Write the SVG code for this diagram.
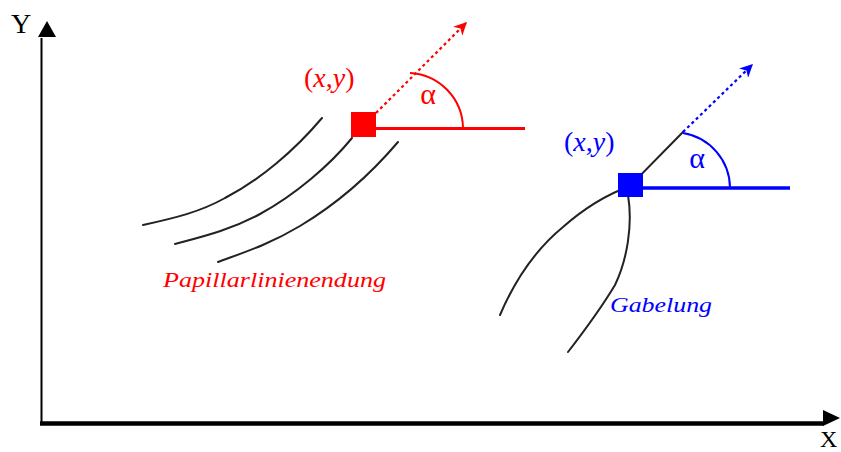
<svg xmlns="http://www.w3.org/2000/svg" width="841" height="452" viewBox="0 0 841 452">
<style>
.ax{stroke:#000;fill:none}
.ridge{stroke:#222;stroke-width:2;fill:none;stroke-linecap:round}
.lbl{font-family:"Liberation Serif","Times New Roman",serif}
.red{fill:#ff0000}
.blue{fill:#0000ff}
</style>
<defs>
<marker id="ar" viewBox="0 0 10 10" refX="9" refY="5" markerWidth="13" markerHeight="13" markerUnits="userSpaceOnUse" orient="auto">
<path d="M0,0 L10,5 L0,10 L3,5 Z" fill="#ff0000"/>
</marker>
<marker id="ab" viewBox="0 0 10 10" refX="9" refY="5" markerWidth="13" markerHeight="13" markerUnits="userSpaceOnUse" orient="auto">
<path d="M0,0 L10,5 L0,10 L3,5 Z" fill="#0000ff"/>
</marker>
</defs>
<rect width="841" height="452" fill="#fff"/>
<g id="axes">
<line class="ax" x1="41.5" y1="424" x2="41.5" y2="38" stroke-width="2"/>
<path d="M47,21 L56,37 L38,37 Z" fill="#000"/>
<line class="ax" x1="40" y1="423.5" x2="824" y2="423.5" stroke-width="4.5"/>
<path d="M823,410 L840,418 L823,426 Z" fill="#000"/>
<text class="lbl" x="11" y="33" font-size="28" fill="#000">Y</text>
<text class="lbl" x="820" y="447" font-size="24" fill="#000">X</text>
</g>
<g id="ridges-ending">
<path class="ridge" d="M143,225 C175,218 200,212 225,198 C260,180 295,150 322,118"/>
<path class="ridge" d="M175,244 C205,236 230,230 260,214 C295,195 330,165 352,138"/>
<path class="ridge" d="M218,262 C245,252 270,244 300,226 C335,205 370,175 398,142"/>
</g>
<g id="ending">
<line x1="376" y1="113" x2="466" y2="23" stroke="#ff0000" stroke-width="2.2" stroke-dasharray="3,3" marker-end="url(#ar)"/>
<line x1="374" y1="128.5" x2="525" y2="128.5" stroke="#ff0000" stroke-width="3"/>
<path d="M410,73 A56 56 0 0 1 463,128" fill="none" stroke="#ff0000" stroke-width="2"/>
<rect x="351" y="112" width="25" height="25" fill="#ff0000"/>
<text class="lbl red" x="304" y="87" font-size="28">(<tspan font-style="italic">x</tspan>,<tspan font-style="italic">y</tspan>)</text>
<text class="lbl red" x="428" y="104" font-size="30" text-anchor="middle">α</text>
<text class="lbl red" x="163" y="287" font-size="21" font-style="italic" textLength="223" lengthAdjust="spacingAndGlyphs">Papillarlinienendung</text>
</g>
<g id="bifurcation">
<path class="ridge" d="M500,315 C515,280 535,250 563,227 C580,212 600,197 630,186 L683,132"/>
<path class="ridge" d="M628,195 C633,225 627,260 615,285 C600,310 585,330 568,352"/>
<line x1="683" y1="132" x2="752" y2="65" stroke="#0000ff" stroke-width="2.2" stroke-dasharray="3,3" marker-end="url(#ab)"/>
<line x1="641" y1="188" x2="790" y2="188" stroke="#0000ff" stroke-width="3.5"/>
<path d="M683,133 A56 56 0 0 1 730,188" fill="none" stroke="#0000ff" stroke-width="2"/>
<rect x="618" y="173" width="25" height="24" fill="#0000ff"/>
<text class="lbl blue" x="564" y="151" font-size="28">(<tspan font-style="italic">x</tspan>,<tspan font-style="italic">y</tspan>)</text>
<text class="lbl blue" x="697" y="168" font-size="30" text-anchor="middle">α</text>
<text class="lbl blue" x="610" y="312" font-size="21" font-style="italic" textLength="102" lengthAdjust="spacingAndGlyphs">Gabelung</text>
</g>
</svg>
